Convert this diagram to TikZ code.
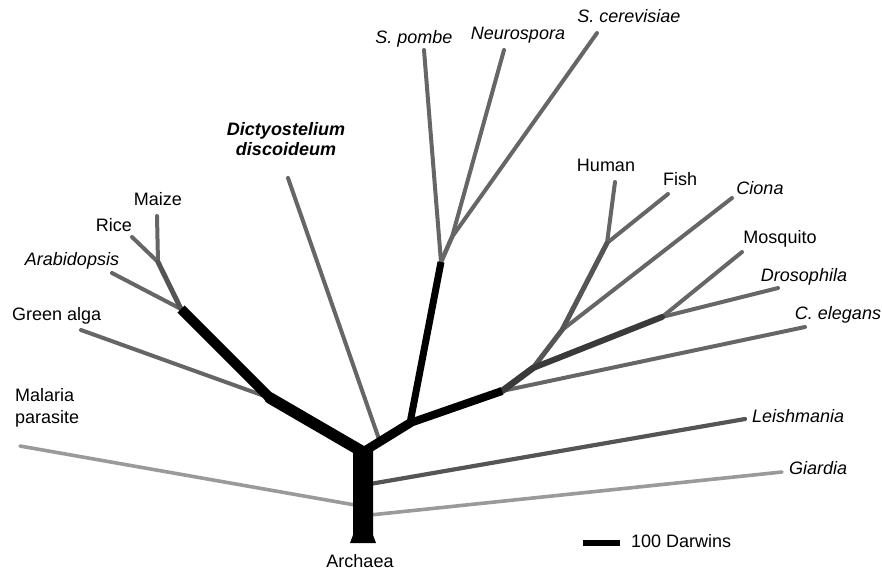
\documentclass[tikz,border=0pt]{standalone}
\usepackage{fontspec}
\setmainfont{Liberation Sans}
\definecolor{leafgray}{HTML}{666666}
\definecolor{palegray}{HTML}{9A9A9A}
\definecolor{stemgray}{HTML}{3A3A3A}
\definecolor{midgray}{HTML}{555555}
\begin{document}
\begin{tikzpicture}[x=1pt,y=-1pt,
  leaf/.style={draw=leafgray, line width=4pt, line cap=round, line join=round},
  paleleaf/.style={draw=palegray, line width=3.6pt, line cap=round},
  stem/.style={draw=stemgray, line width=5.5pt, line cap=round, line join=round},
  core/.style={draw=black, line cap=round, line join=round},
  lab/.style={font=\fontsize{18}{22}\selectfont, inner sep=0pt, text height=13pt, text depth=3.7pt},
  ilab/.style={lab, font=\fontsize{18}{22}\selectfont\itshape}
]
\useasboundingbox (0,0) rectangle (882,574);

% junction coordinates
\coordinate (R) at (363,452);
\coordinate (G) at (270,398);
\coordinate (P) at (181,309);
\coordinate (M) at (158,262);
\coordinate (U) at (410,423);
\coordinate (F) at (441,262);
\coordinate (F2) at (452,237);
\coordinate (A) at (502,391);
\coordinate (B) at (533,368);
\coordinate (C) at (562,330);
\coordinate (H) at (607,243);
\coordinate (Ar) at (662,317);
\coordinate (Dj) at (380,442);
\coordinate (Lj) at (370,484);
\coordinate (Gj) at (370,515);
\coordinate (Mj) at (355,505);

% leaf tips
\coordinate (tMaize) at (157,216);
\coordinate (tRice) at (132,237);
\coordinate (tArab) at (112,273);
\coordinate (tAlga) at (81,330);
\coordinate (tMal) at (20,446);
\coordinate (tDict) at (288,178);
\coordinate (tPombe) at (424,50);
\coordinate (tNeuro) at (504,50);
\coordinate (tCer) at (597,33);
\coordinate (tHum) at (615,182);
\coordinate (tFish) at (668,194);
\coordinate (tCiona) at (732,198);
\coordinate (tMosq) at (742,252);
\coordinate (tDros) at (778,288);
\coordinate (tCel) at (805,327);
\coordinate (tLeish) at (745,419);
\coordinate (tGiar) at (782,472);

% gray leaves
\draw[paleleaf] (Mj) -- (tMal);
\draw[paleleaf] (Gj) -- (tGiar);
\draw[leaf, draw=midgray, line width=4.2pt] (Lj) -- (tLeish);
\draw[leaf] (G) -- (tAlga);
\draw[leaf] (P) -- (tArab);
\draw[leaf] (M) -- (tRice);
\draw[leaf] (M) -- (tMaize);
\draw[stem, draw=midgray, line width=5pt] (P) -- (M);
\draw[leaf] (Dj) -- (tDict);
\draw[leaf] (F) -- (tPombe);
\draw[leaf, line width=4.5pt] (F) -- (F2);
\draw[leaf] (F2) -- (tNeuro);
\draw[leaf] (F2) -- (tCer);
\draw[leaf] (A) -- (tCel);
\draw[leaf] (H) -- (tHum);
\draw[leaf] (H) -- (tFish);
\draw[leaf] (C) -- (tCiona);
\draw[leaf] (Ar) -- (tMosq);
\draw[leaf] (Ar) -- (tDros);
\draw[leaf, draw=midgray, line width=5pt] (B) -- (C) -- (H);
\draw[stem, line width=6pt] (B) -- (Ar);
\draw[stem, line width=6.5pt] (A) -- (B);

% black core
\draw[core, line width=10pt, line cap=butt] (P) -- (G);
\draw[core, line width=11.5pt] (G) -- (R);
\draw[core, line width=9pt] (R) -- (U);
\draw[core, line width=8pt, line cap=butt] (U) -- (A);
\draw[core, line width=7pt, line cap=butt] (U) -- (F);
\fill[black] (353,450) -- (353,535) -- (350,543) -- (376,543) -- (373,535) -- (373,450) -- cycle;

% scale bar
\coordinate (s1) at (583,543);
\coordinate (s2) at (620,543);
\draw[line width=6.5pt] (s1) -- (s2);
\node[lab, anchor=west] (scale) at (631,543) {100 Darwins};

% labels
\node[lab] (archaea) at (360,563) {Archaea};
\node[lab, anchor=west, align=left] (malaria) at (15,419) {Malaria\\parasite};
\node[lab, anchor=west] (alga) at (12,316) {Green alga};
\node[ilab] (arab) at (72,261) {Arabidopsis};
\node[lab] (rice) at (114,227) {Rice};
\node[lab] (maize) at (158,201) {Maize};
\node[lab, align=center, font=\fontsize{18}{20}\selectfont\bfseries\itshape] (dict) at (286,151) {Dictyostelium\\discoideum};
\node[ilab] (pombe) at (414,39) {S. pombe};
\node[ilab] (neuro) at (518,35) {Neurospora};
\node[ilab] (cer) at (629,18) {S. cerevisiae};
\node[lab] (human) at (606,167) {Human};
\node[lab] (fish) at (680,181) {Fish};
\node[ilab] (ciona) at (760,190) {Ciona};
\node[lab] (mosq) at (780,239) {Mosquito};
\node[ilab] (dros) at (804,277) {Drosophila};
\node[ilab] (cel) at (838,315) {C. elegans};
\node[ilab, anchor=west] (leish) at (752,418) {Leishmania};
\node[ilab, anchor=west] (giar) at (789,470) {Giardia};
\end{tikzpicture}
\end{document}
